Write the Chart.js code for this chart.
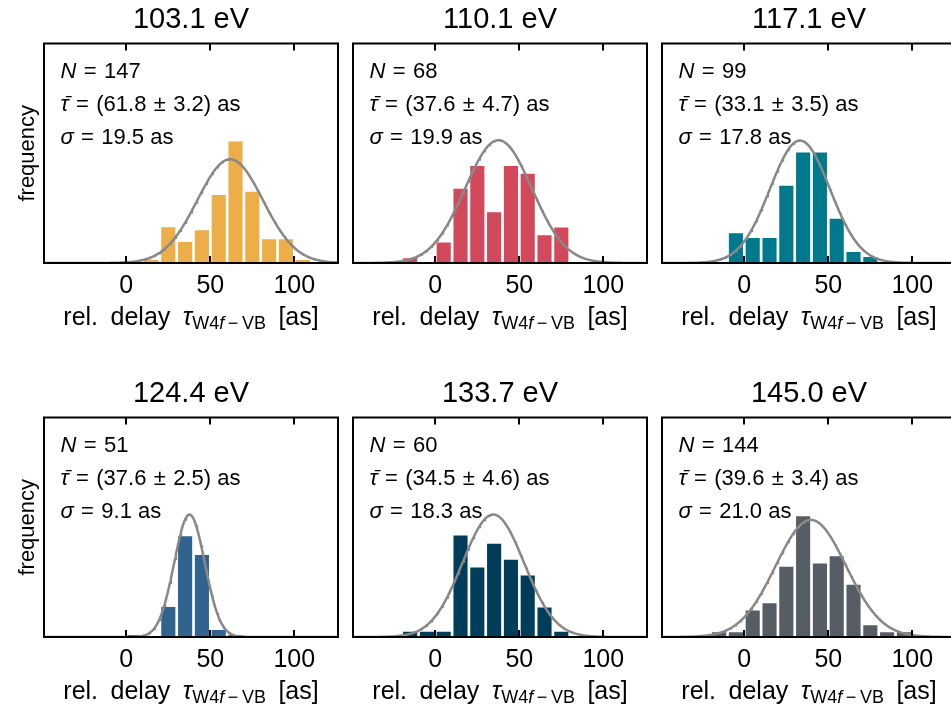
<!DOCTYPE html>
<html>
<head>
<meta charset="utf-8">
<script src="https://cdn.jsdelivr.net/npm/chart.js@4.4.1/dist/chart.umd.min.js"></script>
<style>
  html, body { margin: 0; padding: 0; background: #fff; overflow: hidden; width: 951px; height: 713px; position: relative; }
  canvas { position: absolute; }
</style>
</head>
<body>
<canvas id="p0" width="345" height="339" style="left:0px;top:0px"></canvas>
<canvas id="p1" width="309" height="339" style="left:345px;top:0px"></canvas>
<canvas id="p2" width="309" height="339" style="left:654px;top:0px"></canvas>
<canvas id="p3" width="345" height="339" style="left:0px;top:374px"></canvas>
<canvas id="p4" width="309" height="339" style="left:345px;top:374px"></canvas>
<canvas id="p5" width="309" height="339" style="left:654px;top:374px"></canvas>
<script>
// Photon energies, one panel each
const energies = ['103.1 eV', '110.1 eV', '117.1 eV', '124.4 eV', '133.7 eV', '145.0 eV'];
// Fit results per energy
const sampleCounts = [147, 68, 99, 51, 60, 144];
const meanDelays   = [61.8, 37.6, 33.1, 37.6, 34.5, 39.6];
const meanErrors   = [3.2, 4.7, 3.5, 2.5, 4.6, 3.4];
const sigmas       = [19.5, 19.9, 17.8, 9.1, 18.3, 21.0];
const fitPeaks     = [31.0, 36.7, 36.6, 36.6, 36.6, 35.0];

// Histogram bins (10 as wide), left edge of the first bin per panel
const binWidth = 10;
const firstBinEdges = [10, -20, -10, 0, -20, -30];
const freq103 = [0.9, 10.7, 6.3, 9.8, 20.3, 36.3, 21.3, 7.1, 7.1, 0.9];
const freq110 = [1.4, 0, 6.1, 22.2, 29.0, 15.2, 29.0, 26.7, 8.3, 10.6];
const freq117 = [8.9, 7.5, 7.5, 23.1, 33.0, 33.0, 13.2, 3.3, 1.8];
const freq124 = [0.6, 0, 9.0, 30.1, 24.5, 2.1, 0.6];
const freq133 = [1.6, 1.6, 1.6, 30.3, 20.8, 27.9, 23.1, 18.4, 8.8, 1.6];
const freq145 = [0.3, 1.4, 1.4, 7.9, 10.1, 21.0, 36.1, 22.0, 24.1, 15.6, 3.5, 1.4, 1.4];
const histograms = [freq103, freq110, freq117, freq124, freq133, freq145];

const xTicks = [0, 50, 100];
const xRange = [-49, 126];
const yTop = 65.6;

const barColors = ['#edae49', '#d1495b', '#00798c', '#30638e', '#003d5b', '#565d64'];

const FAM = '"Liberation Sans", Arial, sans-serif';
const fnt = (size, italic) => (italic ? 'italic ' : '') + size + 'px ' + FAM;
const SP = '\u2004';  // slightly wider space around relations

// Draw a sequence of differently styled text runs on one baseline
function drawRuns(ctx, runs, x, y, align) {
  let total = 0;
  const widths = runs.map(r => {
    ctx.font = r.f;
    const w = ctx.measureText(r.t).width;
    total += w;
    return w;
  });
  let cx = align === 'center' ? x - total / 2 : x;
  ctx.textAlign = 'left';
  ctx.textBaseline = 'alphabetic';
  runs.forEach((r, i) => {
    ctx.font = r.f;
    ctx.fillText(r.t, cx, y + (r.dy || 0));
    cx += widths[i];
  });
}

// Frame, inward ticks, tick labels, titles and fit annotations
const panelDecor = {
  id: 'panelDecor',
  afterDraw(chart, args, opts) {
    const i = opts.index;
    const { ctx, chartArea: a, scales: { x } } = chart;
    ctx.save();
    ctx.strokeStyle = '#000';
    ctx.fillStyle = '#000';
    ctx.lineWidth = 2;
    ctx.lineCap = 'butt';
    xTicks.forEach(v => {
      const px = Math.round(x.getPixelForValue(v));
      ctx.beginPath();
      ctx.moveTo(px, a.top); ctx.lineTo(px, a.top + 7);
      ctx.moveTo(px, a.bottom); ctx.lineTo(px, a.bottom - 7);
      ctx.stroke();
    });
    ctx.strokeRect(a.left, a.top, a.right - a.left, a.bottom - a.top);

    ctx.font = fnt(25);
    ctx.textAlign = 'center';
    ctx.textBaseline = 'alphabetic';
    xTicks.forEach(v => ctx.fillText(String(v), x.getPixelForValue(v), a.bottom + 30));

    const cx = (a.left + a.right) / 2;
    ctx.font = fnt(29);
    ctx.fillText(energies[i], cx, a.top - 16);

    drawRuns(ctx, [
      { t: 'rel.\u2002delay\u2002', f: fnt(25) },
      { t: 'τ', f: fnt(25, true) },
      { t: 'W4', f: fnt(18), dy: 4 },
      { t: 'f', f: fnt(18, true), dy: 4 },
      { t: '\u2009−\u2009VB', f: fnt(18), dy: 4 },
      { t: '\u2002[as]', f: fnt(25) }
    ], cx, a.bottom + 62, 'center');

    const tx = a.left + 16.5;
    drawRuns(ctx, [
      { t: 'N', f: fnt(22, true) },
      { t: SP + '=' + SP + sampleCounts[i], f: fnt(22) }
    ], tx, a.top + 34.2);
    drawRuns(ctx, [
      { t: 'τ\u0304', f: fnt(22, true) },
      { t: SP + '=' + SP + '(' + meanDelays[i].toFixed(1) + SP + '±' + SP + meanErrors[i].toFixed(1) + ') as', f: fnt(22) }
    ], tx, a.top + 67.5);
    drawRuns(ctx, [
      { t: 'σ', f: fnt(22, true) },
      { t: SP + '=' + SP + sigmas[i].toFixed(1) + ' as', f: fnt(22) }
    ], tx, a.top + 100.8);

    if (opts.yLabel) {
      ctx.translate(a.left - 10.5, (a.top + a.bottom) / 2);
      ctx.rotate(-Math.PI / 2);
      ctx.font = fnt(22);
      ctx.textAlign = 'center';
      ctx.fillText('frequency', 0, 0);
    }
    ctx.restore();
  }
};

histograms.forEach((freq, i) => {
  const bars = freq.map((f, k) => ({ x: firstBinEdges[i] + binWidth * (k + 0.5), y: f }));
  // Gaussian fit drawn from the stated mean and width
  const fit = [];
  for (let t = xRange[0]; t <= xRange[1]; t += 0.5) {
    fit.push({ x: t, y: fitPeaks[i] * Math.exp(-0.5 * Math.pow((t - meanDelays[i]) / sigmas[i], 2)) });
  }
  const leftCol = i % 3 === 0;
  const canvasW = leftCol ? 345 : 309;
  const frameLeft = leftCol ? 44 : 8;
  const frameRight = leftCol ? 338 : 302;
  new Chart(document.getElementById('p' + i), {
    type: 'bar',
    data: {
      datasets: [
        { type: 'line', data: fit, borderColor: '#888888', borderWidth: 2.5, pointRadius: 0, tension: 0, order: 0 },
        { type: 'bar', data: bars, backgroundColor: barColors[i], borderWidth: 0,
          barPercentage: 0.84, categoryPercentage: 1, order: 1 }
      ]
    },
    options: {
      responsive: false,
      animation: false,
      events: [],
      layout: { padding: { left: frameLeft, right: canvasW - frameRight, top: 43.5, bottom: 339 - 263 } },
      plugins: {
        legend: { display: false },
        tooltip: { enabled: false },
        panelDecor: { index: i, yLabel: leftCol }
      },
      scales: {
        x: { type: 'linear', min: xRange[0], max: xRange[1], display: false, offset: false },
        y: { min: 0, max: yTop, display: false }
      }
    },
    plugins: [panelDecor]
  });
});
</script>
</body>
</html>
